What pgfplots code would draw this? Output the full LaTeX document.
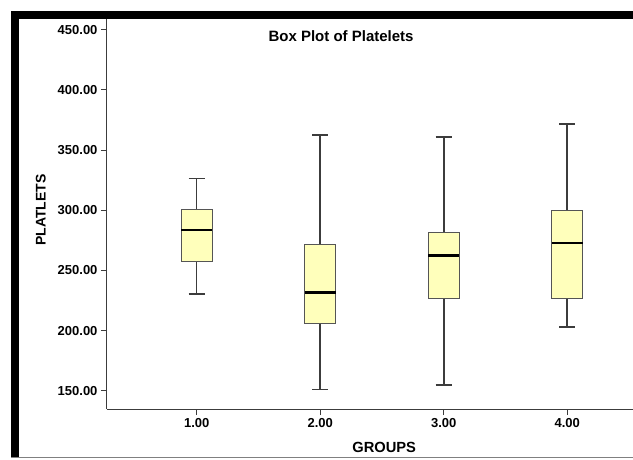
\documentclass[border=0pt]{standalone}
\usepackage{pgfplots}
\pgfplotsset{compat=1.18}
\usepgfplotslibrary{statistics}
\usepackage{fontspec}
\setmainfont{Liberation Sans}
\definecolor{boxfill}{HTML}{FFFFBB}
\definecolor{edge}{HTML}{3C3C3C}
\definecolor{boxedge}{HTML}{555555}
\begin{document}
\begin{tikzpicture}
\useasboundingbox (0pt,0pt) rectangle (633pt,459pt);
\begin{axis}[
  at={(107pt,50pt)}, anchor=south west,
  width=526pt, height=390pt, scale only axis,
  xmin=0.274, xmax=4.532, ymin=134.8, ymax=458.9,
  axis x line*=bottom, axis y line*=left,
  axis line style={edge, line width=1pt, -},
  xtick={1,2,3,4}, xticklabels={1.00,2.00,3.00,4.00},
  ytick={150,200,250,300,350,400,450},
  yticklabels={150.00,200.00,250.00,300.00,350.00,400.00,450.00},
  tick align=outside, major tick length=6pt,
  tick style={edge, line width=1pt},
  ticklabel style={font=\fontsize{13}{15}\selectfont\bfseries},
  /pgf/number format/assume math mode=true,
  xlabel={GROUPS}, ylabel={PLATLETS},
  xlabel style={at={(axis description cs:0.527,-0.0974)}, anchor=center, font=\fontsize{14.7}{17}\selectfont\bfseries},
  ylabel style={at={(axis description cs:-0.126,0.510)}, anchor=center, font=\fontsize{14}{16}\selectfont\bfseries},
  title={Box Plot of Platelets},
  title style={at={(axis description cs:0.445,0.941)}, anchor=center, font=\fontsize{15}{17}\selectfont\bfseries},
  boxplot/draw direction=y,
  boxplot/every median/.style={black, line width=2.4pt},
  boxplot/every whisker/.style={edge, line width=1.6pt, fill=none},
  boxplot/every box/.style={boxedge, line width=1.1pt, fill=boxfill},
]
\addplot[edge, line width=1.6pt, boxplot prepared={draw position=1, lower whisker=230.6, lower quartile=257.5, median=283.6, upper quartile=300.8, upper whisker=326.4, box extend=0.25, whisker extend=0.13}] coordinates {};
\addplot[edge, line width=1.6pt, boxplot prepared={draw position=2, lower whisker=151.1, lower quartile=205.6, median=231.7, upper quartile=271.7, upper whisker=362.5, box extend=0.25, whisker extend=0.13}] coordinates {};
\addplot[edge, line width=1.6pt, boxplot prepared={draw position=3, lower whisker=154.7, lower quartile=226.4, median=262.5, upper quartile=281.7, upper whisker=360.6, box extend=0.25, whisker extend=0.13}] coordinates {};
\addplot[edge, line width=1.6pt, boxplot prepared={draw position=4, lower whisker=202.8, lower quartile=226.9, median=272.8, upper quartile=299.7, upper whisker=371.4, box extend=0.25, whisker extend=0.13}] coordinates {};
\end{axis}
\fill[black] (11pt,440pt) rectangle (633pt,448pt);
\fill[black] (11pt,2pt) rectangle (19pt,448pt);
\draw[gray, line width=0.8pt] (11pt,2pt) -- (633pt,2pt);
\end{tikzpicture}
\end{document}
